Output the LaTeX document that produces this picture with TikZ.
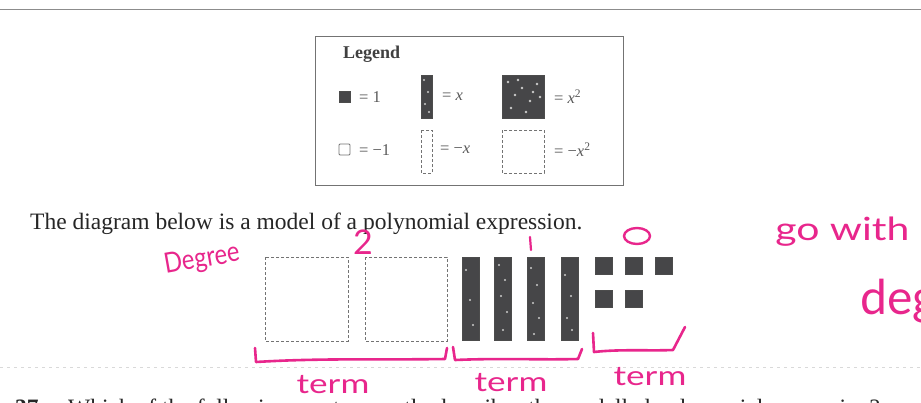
\documentclass[tikz,border=0pt]{standalone}
\usepackage{fontspec}
\setmainfont{Liberation Serif}
\newfontfamily\hand{Lato}
\definecolor{inkpink}{RGB}{232,38,140}
\definecolor{tiledark}{RGB}{70,70,72}
\begin{document}
\begin{tikzpicture}[x=1pt,y=-1pt,
  negtile/.style={draw=black!55, densely dashed, line width=0.8pt, fill=white},
  postile/.style={fill=tiledark, draw=black!70, line width=0.5pt},
  ink/.style={draw=inkpink, line width=2.6pt, line cap=round, line join=round},
  inktext/.style={text=inkpink, inner sep=0pt},
  lgtext/.style={font=\fontsize{16.5}{18}\selectfont, text=black!65, anchor=west, inner sep=0pt},
  speck/.style={fill=white!80!black, draw=none}]
\useasboundingbox (0,0) rectangle (921,402);
\fill[white] (0,0) rectangle (921,402);

% top rule and faint dotted rule
\draw[black!45, line width=0.6pt] (0,9) -- (921,9);
\draw[black!15, line width=0.8pt, dash pattern=on 3pt off 4pt] (0,367) -- (921,367);

% legend box
\draw[black!55, line width=0.7pt] (315,36) rectangle (623,185);
\node[font=\fontsize{18}{20}\selectfont\bfseries, text=black!75, anchor=west, inner sep=0pt] (lgtitle) at (343,54) {Legend};

% legend row 1
\fill[postile] (339,91) rectangle (350,102);
\node[lgtext] (l1) at (359,97) {= 1};
\fill[postile] (421,75) rectangle (432,118);
\node[lgtext] (lx) at (442,97) {= \textit{x}};
\fill[postile] (502,75) rectangle (544,118);
\foreach \px/\py in {508/82,515/95,522/88,530/101,537/84,511/108,526/112,540/97,518/80,533/92}
  \fill[speck] (\px,\py) circle (1.3);
\foreach \px/\py in {424/80,428/92,425/104,429/112}
  \fill[speck] (\px,\py) circle (1.1);
\node[lgtext] (lxx) at (554,97) {= \textit{x}\textsuperscript{2}};

% legend row 2
\draw[negtile, solid, rounded corners=1pt] (339,144) rectangle (350,155);
\node[lgtext] (lm1) at (359,150) {= −1};
\draw[negtile] (421,130) rectangle (432,173);
\node[lgtext] (lmx) at (440,150) {= −\textit{x}};
\draw[negtile] (502,130) rectangle (544,173);
\node[lgtext] (lmxx) at (554,150) {= −\textit{x}\textsuperscript{2}};

% sentence
\node[font=\fontsize{23.5}{26}\selectfont, text=black!85, anchor=base west, inner sep=0pt] (sent) at (30,229) {The diagram below is a model of a polynomial expression.};

% model: -x^2 tiles
\draw[negtile] (265,257) rectangle (348,341);
\draw[negtile] (365,257) rectangle (447,341);

% model: x tiles
\foreach \xa in {462,494,527,561} {
  \fill[postile] (\xa,257) rectangle ++(17,83);
}
\foreach \px/\py in {466/270,470/300,473/325,499/265,505/280,501/296,507/312,503/330,531/268,537/285,533/303,539/318,534/334,565/275,571/296,567/318,572/330}
  \fill[speck] (\px,\py) circle (1.2);

% model: unit tiles
\foreach \xa/\ya in {595/257,625/257,655/257,595/290,625/290} {
  \fill[postile] (\xa,\ya) rectangle ++(17,17);
}

% handwriting
\node[inktext, font=\hand\fontsize{28}{28}\selectfont, rotate=10, xscale=0.85] (deg) at (202,260) {Degree};
\node[inktext, font=\hand\fontsize{34}{34}\selectfont] (two) at (363,242) {2};
\draw[ink, line width=2.2pt] (530,237) -- (531,250);
\draw[ink, line width=2.4pt] (637,236) ellipse (13 and 8);
\node[inktext, font=\hand\fontsize{32}{32}\selectfont, anchor=base west, xscale=1.28] (gow) at (775,240) {go with};
\node[inktext, font=\hand\fontsize{48}{48}\selectfont, anchor=base west] (degtxt) at (860,314) {deg};

% brackets
\draw[ink] (255,348) -- (256,362) .. controls (320,358) and (380,360) .. (445,359) -- (447,348);
\draw[ink] (453,347) -- (455,360) .. controls (500,358) and (540,360) .. (578,359) -- (582,349);
\draw[ink] (593,333) -- (594,352) .. controls (620,349) and (650,351) .. (673,350) -- (685,327);

% term labels
\node[inktext, font=\hand\fontsize{27}{27}\selectfont, xscale=1.3] (t1) at (333,385) {term};
\node[inktext, font=\hand\fontsize{27}{27}\selectfont, xscale=1.3] (t2) at (511,383) {term};
\node[inktext, font=\hand\fontsize{27}{27}\selectfont, xscale=1.3] (t3) at (650,377) {term};

% cut-off question line
\begin{scope}
\clip (0,0) rectangle (921,402);
\node[font=\fontsize{23.5}{26}\selectfont\bfseries, text=black!85, anchor=base west, inner sep=0pt] (qnum) at (15,415) {37};
\node[font=\fontsize{23.5}{26}\selectfont, text=black!85, anchor=base west, inner sep=0pt] (q) at (68,415) {Which of the following most correctly describes the modelled polynomial expression?};
\end{scope}
\end{tikzpicture}
\end{document}
